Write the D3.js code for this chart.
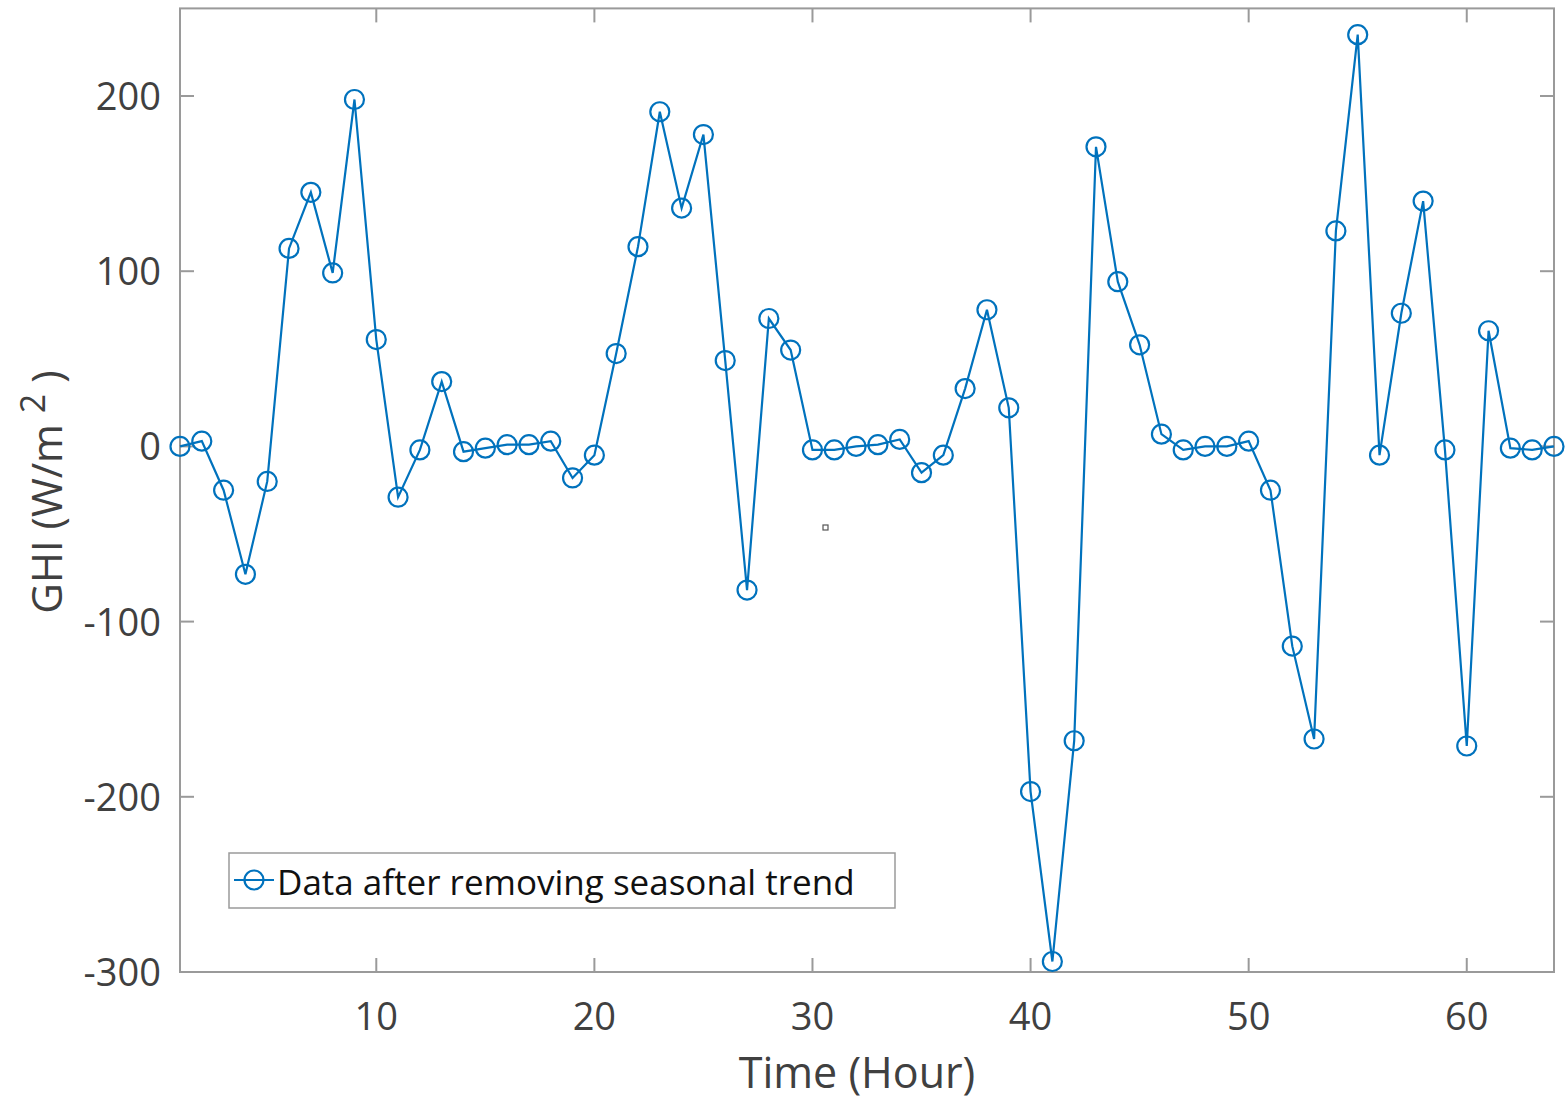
<!DOCTYPE html>
<html><head><meta charset="utf-8">
<script src="https://cdn.jsdelivr.net/npm/d3@7"></script>
<style>body{margin:0;background:#fff}svg{display:block}</style>
</head><body>
<svg id="c" width="1568" height="1101"></svg>
<script>
const hours = d3.range(1, 65);
const ghi = [0,3,-25,-73,-20,113,145,99,198,61,-29,-2,37,-3,-1,1,1,3,-18,-5,
  53,114,191,136,178,49,-82,73,55,-2,-2,0,1,4,-15,-5,33,78,22,-197,
  -294,-168,171,94,58,7,-2,0,0,3,-25,-114,-167,123,235,-5,76,140,-2,-171,
  66,-1,-2,0];
const xTicks = [10,20,30,40,50,60];
const yTicks = [-300,-200,-100,0,100,200];
const seriesName = "Data after removing seasonal trend";

const svg = d3.select("#c");
const L=180, R=1554, T=8.4, B=972;
const x = d3.scaleLinear().domain([1,64]).range([L,R]);
const y = d3.scaleLinear().domain([-300,250]).range([B,T]);
const font = "'Open Sans', sans-serif";
const axCol = "#9a9a9a", txtCol = "#404040", blue = "#0072BD";

svg.append("rect").attr("x",L).attr("y",T).attr("width",R-L).attr("height",B-T)
  .attr("fill","none").attr("stroke",axCol).attr("stroke-width",2);

const tl = 14;
xTicks.forEach(v=>{
  const px = x(v);
  svg.append("line").attr("x1",px).attr("x2",px).attr("y1",B).attr("y2",B-tl).attr("stroke",axCol).attr("stroke-width",2);
  svg.append("line").attr("x1",px).attr("x2",px).attr("y1",T).attr("y2",T+tl).attr("stroke",axCol).attr("stroke-width",2);
  svg.append("text").attr("x",px).attr("y",1030).attr("text-anchor","middle")
    .attr("font-family",font).attr("font-size",38).attr("fill",txtCol).text(v);
});
yTicks.forEach(v=>{
  const py = y(v);
  svg.append("line").attr("x1",L).attr("x2",L+tl).attr("y1",py).attr("y2",py).attr("stroke",axCol).attr("stroke-width",2);
  svg.append("line").attr("x1",R).attr("x2",R-tl).attr("y1",py).attr("y2",py).attr("stroke",axCol).attr("stroke-width",2);
  svg.append("text").attr("x",161).attr("y",py+14).attr("text-anchor","end")
    .attr("font-family",font).attr("font-size",38).attr("fill",txtCol).text(v);
});

svg.append("text").attr("x",857).attr("y",1088).attr("text-anchor","middle")
  .attr("font-family",font).attr("font-size",43).attr("fill",txtCol).text("Time (Hour)");
const yl = svg.append("text").attr("transform","translate(62,492) rotate(-90)").attr("text-anchor","middle")
  .attr("font-family",font).attr("font-size",42).attr("fill",txtCol);
yl.append("tspan").text("GHI (W/m ");
yl.append("tspan").attr("dy",-17).attr("font-size",34).text("2");
yl.append("tspan").attr("dy",17).text(" )");

const pts = hours.map((h,i)=>[h, ghi[i]]);
svg.append("path").datum(pts)
  .attr("d", d3.line().x(d=>x(d[0])).y(d=>y(d[1])))
  .attr("fill","none").attr("stroke",blue).attr("stroke-width",2.2);
svg.selectAll("circle.m").data(pts).enter().append("circle")
  .attr("cx",d=>x(d[0])).attr("cy",d=>y(d[1])).attr("r",9.5)
  .attr("fill","none").attr("stroke",blue).attr("stroke-width",2.2);

svg.append("rect").attr("x",823).attr("y",525).attr("width",5).attr("height",5)
  .attr("fill","#fff").attr("stroke","#555").attr("stroke-width",1.2);

svg.append("rect").attr("x",229).attr("y",853).attr("width",666).attr("height",55)
  .attr("fill","#fff").attr("stroke","#9a9a9a").attr("stroke-width",1.5);
svg.append("line").attr("x1",234).attr("x2",274).attr("y1",880).attr("y2",880).attr("stroke",blue).attr("stroke-width",2.2);
svg.append("circle").attr("cx",254).attr("cy",880).attr("r",9.5).attr("fill","none").attr("stroke",blue).attr("stroke-width",2.2);
svg.append("text").attr("x",277).attr("y",895).attr("font-family",font).attr("font-size",35)
  .attr("fill","#111").text(seriesName);
</script>
</body></html>
